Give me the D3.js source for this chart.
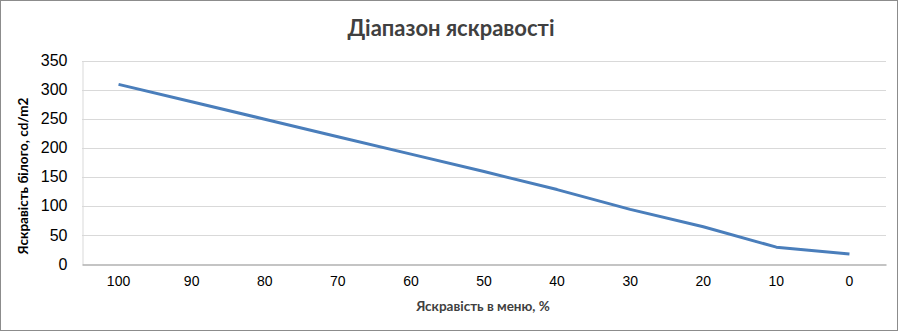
<!DOCTYPE html>
<html>
<head>
<meta charset="utf-8">
<script src="https://cdn.jsdelivr.net/npm/d3@7"></script>
<style>
  body { margin: 0; background: #fff; }
  svg { display: block; font-family: Lato, "Open Sans", sans-serif; }
  .title { font-size: 22px; font-weight: bold; fill: #404040; }
  .label { font-size: 13.5px; font-weight: bold; fill: #404040; }
  .ylabel { font-size: 13.5px; font-weight: bold; fill: #000; }
  .tick text { font-size: 14px; fill: #000; }
  .y.axis .tick text { font-size: 16px; }
</style>
</head>
<body>
<svg width="900" height="332"></svg>
<script>
// brightness in menu, %
var categories = ["100", "90", "80", "70", "60", "50", "40", "30", "20", "10", "0"];
// white luminance, cd/m2
var luminance = [309, 279, 249, 219, 189, 159, 128, 94, 64, 29, 17];
var yTicks = [0, 50, 100, 150, 200, 250, 300, 350];

var svg = d3.select("svg");

// chart border
svg.append("rect")
    .attr("x", 0.5).attr("y", 0.5)
    .attr("width", 897).attr("height", 330)
    .attr("fill", "#fff")
    .attr("stroke", "#8c8c8c");

var plotLeft = 82, plotRight = 886, plotTop = 60.5, plotBottom = 264;

var xScale = d3.scaleBand()
    .domain(categories).range([plotLeft, plotRight]);

var yScale = d3.scaleLinear()
    .domain([0, 350]).range([plotBottom, plotTop]);

// gridlines
svg.append("g")
    .selectAll("line")
    .data(yTicks.slice(1))
    .enter()
    .append("line")
    .attr("x1", plotLeft).attr("x2", plotRight)
    .attr("y1", function(d) { return Math.round(yScale(d)) + 0.5; })
    .attr("y2", function(d) { return Math.round(yScale(d)) + 0.5; })
    .attr("stroke", "#d9d9d9");

// y axis
var yAxis = svg.append("g").attr("class", "y axis")
    .attr("transform", "translate(" + (plotLeft + 0.5) + ",0)")
    .call(d3.axisLeft(yScale).tickValues(yTicks).tickSize(0).tickPadding(15));
yAxis.select(".domain").attr("stroke", "#d9d9d9");

// x axis
var xAxis = svg.append("g").attr("class", "x axis")
    .attr("transform", "translate(0," + (plotBottom + 0.5) + ")")
    .call(d3.axisBottom(xScale).tickSize(0).tickPadding(12));
xAxis.select(".domain").attr("stroke", "#898989");

// line
var line = d3.line()
    .x(function(d, i) { return xScale(categories[i]) + xScale.bandwidth() / 2; })
    .y(function(d) { return yScale(d); });

svg.append("path")
    .datum(luminance)
    .attr("d", line)
    .attr("fill", "none")
    .attr("stroke", "#4a7ebb")
    .attr("stroke-width", 3)
    .attr("stroke-linejoin", "round");

// labels
svg.append("text")
    .attr("class", "title")
    .attr("x", 451).attr("y", 36)
    .attr("text-anchor", "middle")
    .text("Діапазон яскравості");

svg.append("text")
    .attr("class", "ylabel")
    .attr("transform", "translate(28,176) rotate(-90)")
    .attr("text-anchor", "middle")
    .text("Яскравість білого, cd/m2");

svg.append("text")
    .attr("class", "label")
    .attr("x", 483).attr("y", 311)
    .attr("text-anchor", "middle")
    .text("Яскравість в меню, %");
</script>
</body>
</html>
